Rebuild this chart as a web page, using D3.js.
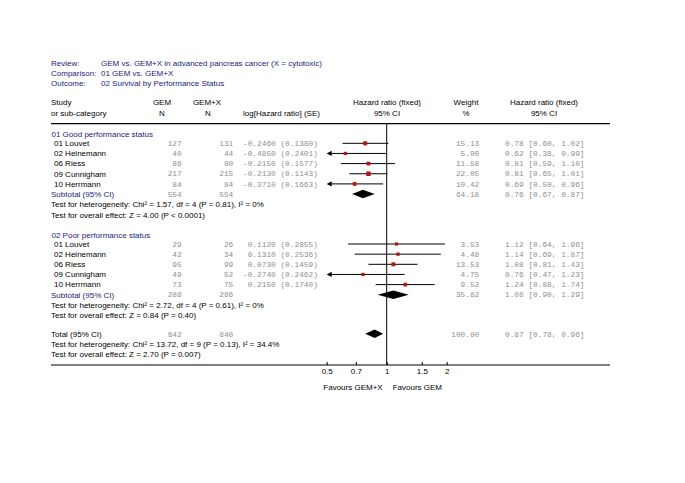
<!DOCTYPE html>
<html><head><meta charset="utf-8">
<script src="https://cdn.jsdelivr.net/npm/d3@7"></script>
<style>body{margin:0;background:#fff}svg{display:block}</style>
</head><body>
<script>
// ---- data ----
const studies = ["01 Louvet","02 Heinemann","06 Riess","09 Cunnigham","10 Herrmann"];
const goodGemN = [127,40,86,217,84];
const goodGemXN = [131,44,80,215,84];
const goodLogHR = ["-0.2460","-0.4850","-0.2150","-0.2130","-0.3710"];
const goodSE = ["0.1380","0.2401","0.1577","0.1143","0.1663"];
const goodWeight = [15.13,5.00,11.58,22.05,10.42];
const goodHR = [0.78,0.62,0.81,0.81,0.69];
const goodLo = [0.60,0.38,0.59,0.65,0.50];
const goodHi = [1.02,0.99,1.10,1.01,0.96];
const goodSub = {gem:554, gemx:554, w:64.18, hr:0.76, lo:0.67, hi:0.87};

const poorGemN = [29,42,95,49,73];
const poorGemXN = [26,34,99,52,75];
const poorLogHR = ["0.1120","0.1310","0.0730","-0.2740","0.2150"];
const poorSE = ["0.2855","0.2536","0.1459","0.2462","0.1740"];
const poorWeight = [3.53,4.48,13.53,4.75,9.52];
const poorHR = [1.12,1.14,1.08,0.76,1.24];
const poorLo = [0.64,0.69,0.81,0.47,0.88];
const poorHi = [1.96,1.87,1.43,1.23,1.74];
const poorSub = {gem:288, gemx:286, w:35.82, hr:1.08, lo:0.90, hi:1.29};

const total = {gem:842, gemx:840, w:100.00, hr:0.87, lo:0.78, hi:0.96};
const axisTicks = [0.5,0.7,1,1.5,2];
const axisTickLabels = ["0.5","0.7","1","1.5","2"];

const W=685,H=483;
const svg=d3.select("body").append("svg").attr("width",W).attr("height",H);
const SANS="Arial, 'Liberation Sans', sans-serif";
const MONO="'Liberation Mono','Courier New',monospace";
const BLUE="#1c1c78", GRAY="#8f8f8f", RED="#b01818";
const FS=8, MFS=7.8;

const x=d3.scaleLog().domain([0.5,2]).range([326.7,446.7]);
const sq=d3.scaleLinear().domain([0,25]).range([3,4.7]);

function txt(s,xx,yy,opt={}){
  return svg.append("text").attr("x",xx).attr("y",yy).attr("dy","0.35em")
    .attr("font-family",opt.mono?MONO:SANS).attr("font-size",opt.mono?MFS:FS)
    .attr("fill",opt.fill||"#000").attr("text-anchor",opt.anchor||"start").text(s);
}
const fmt2=d3.format(".2f");
function hrText(h,l,u){return fmt2(h)+" ["+fmt2(l)+", "+fmt2(u)+"]";}

// title block
txt("Review:",51,63,{fill:BLUE}); txt("GEM vs. GEM+X in advanced pancreas cancer (X = cytotoxic)",101,63,{fill:BLUE});
txt("Comparison:",51,73.3,{fill:BLUE}); txt("01 GEM vs. GEM+X",101,73.3,{fill:BLUE});
txt("Outcome:",51,83.5,{fill:BLUE}); txt("02 Survival by Performance Status",101,83.5,{fill:BLUE});

// headers
const h1=102.5,h2=113;
txt("Study",51,h1); txt("or sub-category",51,h2);
txt("GEM",162,h1,{anchor:"middle"}); txt("N",162,h2,{anchor:"middle"});
txt("GEM+X",207,h1,{anchor:"middle"}); txt("N",208,h2,{anchor:"middle"});
txt("log[Hazard ratio] (SE)",243,h2);
txt("Hazard ratio (fixed)",387,h1,{anchor:"middle"}); txt("95% CI",387,h2,{anchor:"middle"});
txt("Weight",466,h1,{anchor:"middle"}); txt("%",466,h2,{anchor:"middle"});
txt("Hazard ratio (fixed)",544,h1,{anchor:"middle"}); txt("95% CI",544,h2,{anchor:"middle"});

const topLine=123.7, axisY=365;
svg.append("line").attr("x1",51).attr("x2",610).attr("y1",topLine).attr("y2",topLine).attr("stroke","#000").attr("stroke-width",1.2);
svg.append("line").attr("x1",51).attr("x2",610).attr("y1",axisY).attr("y2",axisY).attr("stroke","#000").attr("stroke-width",1.2);
svg.append("line").attr("x1",x(1)).attr("x2",x(1)).attr("y1",topLine).attr("y2",axisY).attr("stroke","#000").attr("stroke-width",1);

function diamond(y,s){
  const hh=4.2;
  svg.append("path").attr("d",`M${x(s.lo)},${y}L${x(s.hr)},${y-hh}L${x(s.hi)},${y}L${x(s.hr)},${y+hh}Z`).attr("fill","#000");
}
function studyRow(y,i,gN,gxN,lhr,se,w,hr,lo,hi){
  txt(studies[i],54,y);
  txt(gN[i],181.7,y,{mono:1,fill:GRAY,anchor:"end"});
  txt(gxN[i],233.3,y,{mono:1,fill:GRAY,anchor:"end"});
  txt((lhr[i].startsWith("-")?"":" ")+lhr[i]+" ("+se[i]+")",243,y,{mono:1,fill:GRAY}).attr("xml:space","preserve").style("white-space","pre");
  txt(fmt2(w[i]),479.3,y,{mono:1,fill:GRAY,anchor:"end"});
  txt(hrText(hr[i],lo[i],hi[i]),505,y,{mono:1,fill:GRAY});
  const d=x.domain();
  const l=Math.max(lo[i],d[0]), u=Math.min(hi[i],d[1]);
  const clipL=lo[i]<=d[0];
  svg.append("line").attr("x1",x(l)+(clipL?2:0)).attr("x2",x(u)).attr("y1",y).attr("y2",y).attr("stroke","#000").attr("stroke-width",1);
  if(clipL){
    svg.append("path").attr("d",`M${x(d[0])},${y}L${x(d[0])+5},${y-2.6}L${x(d[0])+5},${y+2.6}Z`).attr("fill","#000");
  }
  const s=sq(w[i]);
  svg.append("rect").attr("x",x(hr[i])-s/2).attr("y",y-s/2).attr("width",s).attr("height",s).attr("fill",RED);
}
function section(label,yHead,gN,gxN,lhr,se,w,hr,lo,hi,sub,het,eff){
  txt(label,51.5,yHead,{fill:BLUE});
  const step=10.15;
  studies.forEach((_,i)=>studyRow(yHead+9+i*step,i,gN,gxN,lhr,se,w,hr,lo,hi));
  const ys=yHead+9+5*step;
  txt("Subtotal (95% CI)",51,ys,{fill:BLUE});
  txt(sub.gem,181.7,ys,{mono:1,fill:GRAY,anchor:"end"});
  txt(sub.gemx,233.3,ys,{mono:1,fill:GRAY,anchor:"end"});
  txt(fmt2(sub.w),479.3,ys,{mono:1,fill:GRAY,anchor:"end"});
  txt(hrText(sub.hr,sub.lo,sub.hi),505,ys,{mono:1,fill:GRAY});
  diamond(ys,sub);
  txt(het,51,ys+10.5); txt(eff,51,ys+20.8);
}
section("01 Good performance status",134.3,goodGemN,goodGemXN,goodLogHR,goodSE,goodWeight,goodHR,goodLo,goodHi,goodSub,
  "Test for heterogeneity: Chi² = 1.57, df = 4 (P = 0.81), I² = 0%","Test for overall effect: Z = 4.00 (P < 0.0001)");
section("02 Poor performance status",235,poorGemN,poorGemXN,poorLogHR,poorSE,poorWeight,poorHR,poorLo,poorHi,poorSub,
  "Test for heterogeneity: Chi² = 2.72, df = 4 (P = 0.61), I² = 0%","Test for overall effect: Z = 0.84 (P = 0.40)");

const yt=333.8;
txt("Total (95% CI)",51,yt);
txt(total.gem,181.7,yt,{mono:1,fill:GRAY,anchor:"end"});
txt(total.gemx,233.3,yt,{mono:1,fill:GRAY,anchor:"end"});
txt(fmt2(total.w),479.3,yt,{mono:1,fill:GRAY,anchor:"end"});
txt(hrText(total.hr,total.lo,total.hi),505,yt,{mono:1,fill:GRAY});
diamond(yt,total);
txt("Test for heterogeneity: Chi² = 13.72, df = 9 (P = 0.13), I² = 34.4%",51,yt+10.4);
txt("Test for overall effect: Z = 2.70 (P = 0.007)",51,yt+20.6);

// axis
const ax=d3.axisBottom(x).tickValues(axisTicks).tickFormat((d,i)=>axisTickLabels[i]).tickSizeInner(-3).tickSizeOuter(0).tickPadding(3.5);
const g=svg.append("g").attr("transform",`translate(0,${axisY})`).call(ax);
g.select(".domain").remove();
g.selectAll(".tick line").attr("stroke","#000");
g.selectAll("text").attr("font-family",SANS).attr("font-size",FS).attr("fill","#000");

txt("Favours GEM+X",x(1)-4,386.7,{anchor:"end"});
txt("Favours GEM",x(1)+6,386.7);
</script>
</body></html>
